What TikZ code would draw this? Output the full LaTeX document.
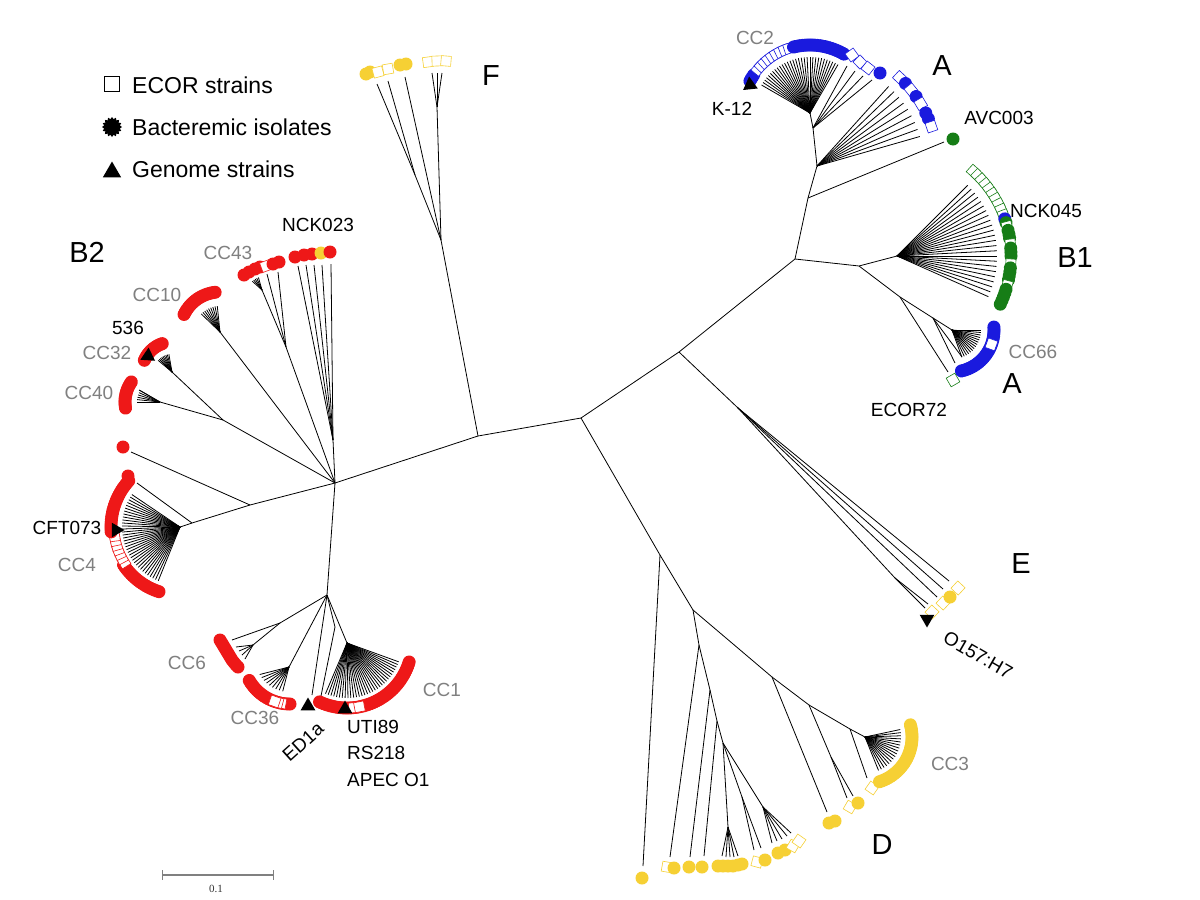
\documentclass[tikz,border=0pt]{standalone}
\usepackage{fontspec}
\setmainfont{Liberation Sans}
\newfontfamily\barfont{Liberation Serif}
\usetikzlibrary{shapes.geometric,calc}
\definecolor{cR}{RGB}{238,24,24}
\definecolor{cB}{RGB}{26,26,222}
\definecolor{cG}{RGB}{22,125,22}
\definecolor{cY}{RGB}{246,208,52}
\definecolor{cT}{RGB}{128,128,128}
\newcommand{\myfan}[4]{\foreach \a in {#4}{\path (#1) ++(\a:#3) coordinate (#2\a); \draw[br] (#1) -- (#2\a);}}
\newcommand{\mydots}[5]{\foreach \a in {#5}{\path (#1) ++(\a:#3) node[#4,rotate=-\a] (#2\a) {};}}
\newcommand{\mymarks}[4]{\foreach \a/\mk in {#4}{\path (#1) ++(\a:#3) node[\mk,rotate=-\a] (#2\a) {};}}
\tikzset{
  br/.style={line width=0.8pt,black},
  dR/.style={circle,fill=cR,minimum size=13pt,inner sep=0pt},
  dB/.style={circle,fill=cB,minimum size=13pt,inner sep=0pt},
  dG/.style={circle,fill=cG,minimum size=13pt,inner sep=0pt},
  dY/.style={circle,fill=cY,minimum size=13pt,inner sep=0pt},
  sR/.style={rectangle,draw=cR,fill=white,line width=0.6pt,minimum size=10pt,inner sep=0pt},
  sB/.style={rectangle,draw=cB,fill=white,line width=0.6pt,minimum size=10pt,inner sep=0pt},
  sG/.style={rectangle,draw=cG,fill=white,line width=0.6pt,minimum size=10pt,inner sep=0pt},
  sY/.style={rectangle,draw=cY,fill=white,line width=0.6pt,minimum size=10pt,inner sep=0pt},
  tri/.style={regular polygon,regular polygon sides=3,fill=black,minimum size=17pt,inner sep=0pt},
  lab/.style={font=\fontsize{19}{22}\selectfont,inner sep=0pt},
  cc/.style={lab,text=cT},
  clade/.style={font=\fontsize{29}{33}\selectfont,inner sep=0pt},
  leg/.style={font=\fontsize{23}{26}\selectfont,inner sep=0pt,anchor=base west},
}
\begin{document}
\begin{tikzpicture}[x=1pt,y=-1pt]
\useasboundingbox[fill=white] (0,0) rectangle (1200,900);
% ---------- internal nodes ----------
\coordinate (nB2) at (335,483);
\coordinate (nR1) at (478,436);
\coordinate (nR2) at (581,418);
\coordinate (nAB) at (679,352);
\coordinate (nAB2) at (795,259);
\coordinate (nA1) at (808,198);
\coordinate (nA2) at (817,166);
\coordinate (nA3) at (813,128);
\coordinate (nCC2) at (810,113);
\coordinate (nB1a) at (859,266);
\coordinate (nB1) at (897,256);
\coordinate (nA66a) at (900,297);
\coordinate (nA66b) at (933,318);
\coordinate (nCC66) at (952,330);
\coordinate (nE) at (738,408);
\coordinate (nEs) at (895,578);
\coordinate (nF) at (441,240);
\coordinate (nFa) at (415,175);
\coordinate (nFb) at (437,107);
\coordinate (nD1) at (660,555);
\coordinate (nD2) at (693,610);
\coordinate (nD3) at (699,645);
\coordinate (nD4) at (772,677);
\coordinate (nD5) at (809,705);
\coordinate (nD6) at (831,757);
\coordinate (nD7) at (850,729);
\coordinate (nCC3) at (865,737);
\coordinate (nD8) at (710,690);
\coordinate (nD9) at (717,721);
\coordinate (nD10) at (723,743);
\coordinate (nD11) at (728,827);
\coordinate (nD12) at (742,797);
\coordinate (nD13) at (763,807);
\coordinate (nB2b) at (250,505);
\coordinate (nCC4a) at (192,523);
\coordinate (nCC4) at (180,527);
\coordinate (nX) at (223,420);
\coordinate (nCC40) at (160,402);
\coordinate (nCC32) at (172,372);
\coordinate (nCC10) at (220,332);
\coordinate (nC43a) at (286,347);
\coordinate (nCC43) at (262,290);
\coordinate (nNCK) at (333,440);
\coordinate (nLow) at (327,595);
\coordinate (nCC6) at (280,623);
\coordinate (nCC6s) at (253,645);
\coordinate (nCC36f) at (289,667);
\coordinate (nCC36) at (290,657);
\coordinate (nL1) at (335,627);
\coordinate (nCC1) at (347,643);
% ---------- free tip ends ----------
\coordinate (tSingle) at (131,452);
\coordinate (tC4top) at (137,483);
\coordinate (t40x) at (139,390);
\coordinate (t43a) at (267,274);
\coordinate (t43b) at (278,272);
\coordinate (tN1) at (298,266);
\coordinate (tN2) at (306,265);
\coordinate (tN3) at (314,265);
\coordinate (tN4) at (322,265);
\coordinate (tN5) at (331,264);
\coordinate (t6a) at (232,640);
\coordinate (t6b) at (236,647);
\coordinate (t6c) at (239,651);
\coordinate (t6d) at (242,655);
\coordinate (t6e) at (245,659);
\coordinate (tED) at (312,695);
\coordinate (tL1) at (321,696);
\coordinate (tA3a) at (847,66);
\coordinate (tA3b) at (855,71);
\coordinate (tA3c) at (863,76);
\coordinate (tA3d) at (872,80);
\coordinate (tAVC) at (944,142);
\coordinate (tE72) at (948,372);
\coordinate (t66a) at (955,363);
\coordinate (t66b) at (962,357);
\coordinate (tE1) at (925,608);
\coordinate (tE2) at (928,604);
\coordinate (tE3) at (937,597);
\coordinate (tE4) at (943,589);
\coordinate (tE5) at (949,581);
\coordinate (tF1) at (377,84);
\coordinate (tF2) at (388,81);
\coordinate (tF3) at (405,77);
\coordinate (tF4) at (432,73);
\coordinate (tF5) at (437,73);
\coordinate (tF6) at (442,73);
\coordinate (tD1) at (643,866);
\coordinate (tD2) at (670,857);
\coordinate (tD3) at (690,857);
\coordinate (tD4) at (704,856);
\coordinate (tD5) at (827,812);
\coordinate (tD6) at (847,798);
\coordinate (tD7) at (853,796);
\coordinate (tD8) at (867,778);
\coordinate (t11a) at (722,856);
\coordinate (t11b) at (726,857);
\coordinate (t11c) at (730,857);
\coordinate (t11d) at (734,857);
\coordinate (t11e) at (738,856);
\coordinate (t12a) at (754,850);
\coordinate (t12b) at (761,848);
\coordinate (t13a) at (772,843);
\coordinate (t13b) at (777,841);
\coordinate (t13c) at (782,839);
\coordinate (t13d) at (787,836);
\coordinate (t13e) at (791,833);
% ---------- backbone ----------
\draw[br] (nB2) -- (nR1) -- (nR2) -- (nAB) -- (nAB2);
\draw[br] (nR1) -- (nF);
\draw[br] (nR2) -- (nD1);
\draw[br] (nAB) -- (nE);
% ---------- A / B1 ----------
\draw[br] (nAB2) -- (nA1) -- (nA2) -- (nA3) -- (nCC2);
\draw[br] (nA1) -- (tAVC);
\foreach \p in {tA3a,tA3b,tA3c,tA3d} \draw[br] (nA3) -- (\p);
\myfan{nCC2}{e2-}{56}{210,213,...,300}
\myfan{nA2}{ea-}{107}{312,316,...,344}
\draw[br] (nAB2) -- (nB1a) -- (nB1);
\myfan{nB1}{eb-}{100}{315,318,...,384}
\draw[br] (nB1a) -- (nA66a) -- (nA66b) -- (nCC66);
\draw[br] (nA66a) -- (tE72);
\draw[br] (nA66b) -- (t66a);
\draw[br] (nA66b) -- (t66b);
\myfan{nCC66}{e66-}{29}{0,5,...,70}
% ---------- E ----------
\foreach \p in {tE3,tE4,tE5} \draw[br] (nE) -- (\p);
\draw[br] (nE) -- (nEs);
\draw[br] (nEs) -- (tE1);
\draw[br] (nEs) -- (tE2);
% ---------- F ----------
\draw[br] (nF) -- (nFa);
\draw[br] (nFa) -- (tF1);
\draw[br] (nFa) -- (tF2);
\draw[br] (nF) -- (tF3);
\draw[br] (nF) -- (nFb);
\foreach \p in {tF4,tF5,tF6} \draw[br] (nFb) -- (\p);
% ---------- D ----------
\draw[br] (nD1) -- (tD1);
\draw[br] (nD1) -- (nD2) -- (nD3) -- (tD2);
\draw[br] (nD2) -- (nD4) -- (tD5);
\draw[br] (nD4) -- (nD5) -- (nD6) -- (tD6);
\draw[br] (nD6) -- (tD7);
\draw[br] (nD5) -- (nD7) -- (nCC3);
\draw[br] (nD7) -- (tD8);
\draw[br] (nD3) -- (nD8) -- (tD3);
\draw[br] (nD8) -- (nD9) -- (tD4);
\draw[br] (nD9) -- (nD10);
\draw[br] (nD10) -- (nD11);
\draw[br] (nD10) -- (nD12);
\draw[br] (nD10) -- (nD13);
\foreach \p in {t11a,t11b,t11c,t11d,t11e} \draw[br] (nD11) -- (\p);
\foreach \p in {t12a,t12b} \draw[br] (nD12) -- (\p);
\foreach \p in {t13a,t13b,t13c,t13d,t13e} \draw[br] (nD13) -- (\p);
\myfan{nCC3}{e3-}{36}{-12,-7,...,68}
% ---------- B2 ----------
\draw[br] (nB2) -- (nB2b) -- (nCC4a) -- (nCC4);
\draw[br] (nCC4a) -- (tC4top);
\draw[br] (nB2b) -- (tSingle);
\myfan{nCC4}{e4-}{58}{112,115,...,214}
\draw[br] (nB2) -- (nX) -- (nCC40);
\draw[br] (nX) -- (nCC32);
\draw[br] (nCC40) -- (t40x);
\myfan{nCC40}{e40-}{23}{180,186,...,210}
\myfan{nCC32}{e32-}{18}{220,225,...,260}
\draw[br] (nB2) -- (nCC10);
\myfan{nCC10}{e10-}{26}{224,229,...,264}
\draw[br] (nB2) -- (nC43a) -- (nCC43);
\draw[br] (nC43a) -- (t43a);
\draw[br] (nC43a) -- (t43b);
\myfan{nCC43}{e43-}{13}{222,230,...,254}
\draw[br] (nB2) -- (nNCK);
\foreach \p in {tN1,tN2,tN3,tN4,tN5} \draw[br] (nNCK) -- (\p);
\draw[br] (nB2) -- (nLow) -- (nCC6) -- (nCC6s);
\draw[br] (nCC6) -- (t6a);
\foreach \p in {t6b,t6c,t6d,t6e} \draw[br] (nCC6s) -- (\p);
\draw[br] (nLow) -- (nCC36f);
\foreach \a in {102,108,...,150}{\path (nCC36) ++(\a:35) coordinate (e36-\a); \draw[br] (nCC36f) -- (e36-\a);}
\draw[br] (nLow) -- (tED);
\draw[br] (nLow) -- (nL1) -- (tL1);
\draw[br] (nLow) -- (nCC1);
\myfan{nCC1}{e1-}{55}{20,23,...,113}
% ---------- markers: B2 ----------
\node[dR] (mSingle) at (123,447) {};
\node[dR] (m4top) at (128,476) {};
\mydots{nCC4}{m4a-}{68}{dR}{108,110,...,146}
\mydots{nCC4}{m4b-}{66}{sR}{148,152,...,172}
\mydots{nCC4}{m4c-}{69}{dR}{176,178,...,222}
\node[tri,rotate=-90] (k4) at (116,530) {};
\mydots{nCC40}{m40-}{35}{dR}{170,173,...,215}
\mydots{nCC32}{m32-}{30}{dR}{203,206,...,251}
\node[tri,rotate=-124] (k32) at (148,356) {};
\mydots{nCC10}{m10-}{40}{dR}{206,209,...,263}
\foreach \x/\y [count=\i] in {244/275,249/272,255/269,260/267} \node[dR] (m43-\i) at (\x,\y) {};
\node[sR,rotate=20] (m43s) at (266,266) {};
\node[dR] (m43-5) at (273,264) {};
\node[dR] (m43-6) at (279,262) {};
\node[dR] (mN1) at (295,257) {};
\node[dR] (mN2) at (304,255) {};
\node[dR] (mN3) at (312,254) {};
\node[dY] (mN4) at (321,253) {};
\node[dR] (mN5) at (330,252) {};
\foreach \x/\y [count=\i] in {220/640,221.5/642.5,223/645,224.5/647.5,226/650,227.5/652.5,229/655,230.5/657.5,232/660,234/662.5,236/665,238/667} \node[dR] (m6-\i) at (\x,\y) {};
\mydots{nCC36}{m36a-}{47}{dR}{90,93,...,152}
\mydots{nCC36}{m36b-}{47}{sR}{101,105,109}
\node[tri] (kED) at (308,706) {};
\mydots{nCC1}{m1a-}{65}{dR}{17,19,...,115}
\mydots{nCC1}{m1b-}{65}{sR}{84,79}
\node[tri] (kUTI) at (345,709) {};
% ---------- markers: A / B1 ----------
\mydots{nCC2}{m2a-}{68}{dB}{208,210,212,214}
\mydots{nCC2}{m2b-}{68}{sB}{220,224,...,252}
\mydots{nCC2}{m2c-}{68}{dB}{256,258,...,300}
\node[sB,rotate=36] (m2d) at (852,55) {};
\node[sB,rotate=44] (m2e) at (860,62) {};
\node[sB,rotate=52] (m2f) at (868,68) {};
\node[dB] (m2g) at (880,73) {};
\node[tri,rotate=-114] (kK12) at (750,85) {};
\mymarks{nA2}{mA-}{121}{313/sB,317/dB,321/sB,325/dB,329/sB,334/dB,337/dB,341/sB}
\node[dG] (mAVC) at (953,139) {};
\mydots{nB1}{mB1s-}{114}{sG}{312,315,...,339}
\mymarks{nB1}{mB1-}{114}{341/dB,343/dG,345/sG,347/dG,349/dG,351/dG,354/sG,356/dG,358/dG,360/dG,364/sG,366/dG,368/dG,370/dG,372/dG,375/sG,377/dG,379/dG,381/dG,383/dG,385/dG}
\mydots{nCC66}{m66-}{42}{dB}{-4,-1,...,77}
\mydots{nCC66}{m66s-}{42}{sB}{20}
\node[sG,rotate=-60] (mE72) at (953,380) {};
% ---------- markers: E ----------
\node[sY,rotate=-43] (me1) at (932,612) {};
\node[sY,rotate=-43] (me2) at (943,603) {};
\node[dY] (me3) at (950,597) {};
\node[sY,rotate=-43] (me4) at (958,588) {};
\node[tri,rotate=180] (kO157) at (927,619) {};
% ---------- markers: F ----------
\node[dY] (mF1) at (366,74) {};
\node[dY] (mF2) at (370,72) {};
\node[sY,rotate=15] (mF3) at (378,72) {};
\node[sY,rotate=10] (mF4) at (388,69) {};
\node[dY] (mF5) at (400,65) {};
\node[dY] (mF6) at (406,64) {};
\node[sY,rotate=8] (mF7) at (428,62) {};
\node[sY,rotate=2] (mF8) at (437,61) {};
\node[sY,rotate=-5] (mF9) at (446,61) {};
% ---------- markers: D ----------
\node[dY] (mD1) at (642,878) {};
\node[sY,rotate=-10] (mD2) at (667,867) {};
\node[dY] (mD3) at (674,868) {};
\node[dY] (mD4) at (689,867) {};
\node[dY] (mD5) at (702,867) {};
\foreach \x/\y [count=\i] in {718/866,723/866,728/866,733/866,738/865,742/864} \node[dY] (mD11-\i) at (\x,\y) {};
\node[sY,rotate=-15] (mD12a) at (757,862) {};
\node[dY] (mD12b) at (765,860) {};
\node[dY] (mD13a) at (778,853) {};
\node[dY] (mD13b) at (785,850) {};
\node[sY,rotate=-30] (mD13c) at (793,846) {};
\node[sY,rotate=-35] (mD13d) at (799,841) {};
\node[dY] (mD6a) at (829,823) {};
\node[dY] (mD6b) at (835,821) {};
\node[sY,rotate=-30] (mD7a) at (850,807) {};
\node[dY] (mD7b) at (858,803) {};
\node[sY,rotate=-35] (mD8) at (872,788) {};
\mydots{nCC3}{m3-}{47}{dY}{-15,-12,...,72}
% ---------- labels ----------
\node[lab] (lK12) at (732,109) {K-12};
\node[lab] (lAVC) at (999,118) {AVC003};
\node[lab] (lNCK45) at (1046,211) {NCK045};
\node[lab] (lE72) at (909,410) {ECOR72};
\node[lab] (lNCK23) at (318,225) {NCK023};
\node[lab] (l536) at (128,328) {536};
\node[lab] (lCFT) at (67,528) {CFT073};
\node[lab,anchor=west] (lUTI) at (347,727) {UTI89};
\node[lab,anchor=west] (lRS) at (347,753) {RS218};
\node[lab,anchor=west] (lAPEC) at (347,780) {APEC O1};
\node[lab,rotate=42] (lED) at (303,742) {ED1a};
\node[lab,rotate=-30] (lO157) at (978,655) {O157:H7};
\node[cc] (cCC2) at (755,38) {CC2};
\node[cc] (cCC66) at (1033,352) {CC66};
\node[cc] (cCC43) at (228,253) {CC43};
\node[cc] (cCC10) at (157,295) {CC10};
\node[cc] (cCC32) at (107,353) {CC32};
\node[cc] (cCC40) at (89,393) {CC40};
\node[cc] (cCC4) at (77,565) {CC4};
\node[cc] (cCC6) at (187,663) {CC6};
\node[cc] (cCC36) at (255,718) {CC36};
\node[cc] (cCC1) at (442,690) {CC1};
\node[cc] (cCC3) at (950,764) {CC3};
\node[clade] (gF) at (491,76) {F};
\node[clade] (gA) at (942,66) {A};
\node[clade] (gB1) at (1075,258) {B1};
\node[clade] (gA2) at (1012,384) {A};
\node[clade] (gE) at (1021,564) {E};
\node[clade] (gD) at (882,845) {D};
\node[clade] (gB2) at (87,252) {B2};
% ---------- legend ----------
\node[draw=black,line width=1.5pt,minimum size=15pt,inner sep=0pt] (lg1) at (112,84) {};
\node[star,star points=16,star point ratio=1.25,fill=black,minimum size=20pt,inner sep=0pt] (lg2) at (112,127) {};
\node[tri,minimum size=21pt] (lg3) at (112,172) {};
\node[leg] (lt1) at (132,93) {ECOR strains};
\node[leg] (lt2) at (132,135) {Bacteremic isolates};
\node[leg] (lt3) at (132,177) {Genome strains};
% ---------- scale bar ----------
\coordinate (sb1) at (162,875);
\coordinate (sb2) at (273,875);
\coordinate (sb1u) at (162,870);
\coordinate (sb1d) at (162,880);
\coordinate (sb2u) at (273,870);
\coordinate (sb2d) at (273,880);
\draw[cT,line width=1.3pt] (sb1) -- (sb2);
\draw[cT,line width=1pt] (sb1u) -- (sb1d);
\draw[cT,line width=1pt] (sb2u) -- (sb2d);
\node[font=\barfont\fontsize{11}{12}\selectfont,inner sep=0pt,text=black!80] (sbl) at (216,889) {0.1};
\end{tikzpicture}
\end{document}
